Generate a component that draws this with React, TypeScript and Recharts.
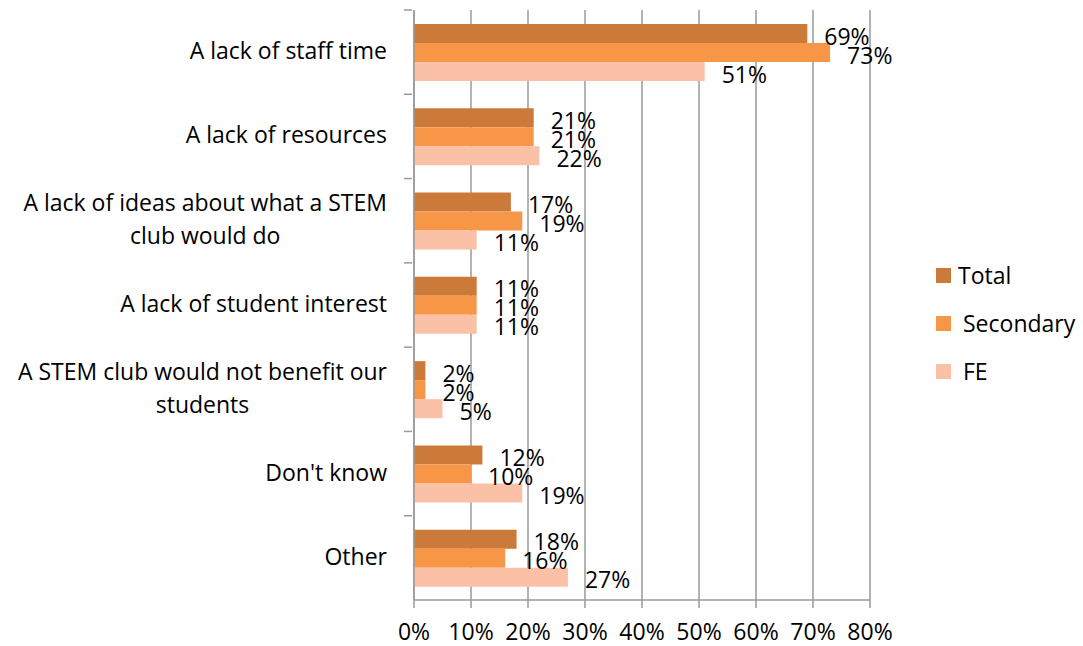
import { BarChart, Bar, XAxis, YAxis, CartesianGrid, LabelList } from "recharts";

const categories = [
  "A lack of staff time",
  "A lack of resources",
  "A lack of ideas about what a STEM club would do",
  "A lack of student interest",
  "A STEM club would not benefit our students",
  "Don't know",
  "Other",
];
const total = [69, 21, 17, 11, 2, 12, 18];
const secondary = [73, 21, 19, 11, 2, 10, 16];
const fe = [51, 22, 11, 11, 5, 19, 27];
const xTicks = [0, 10, 20, 30, 40, 50, 60, 70, 80];

const series = [
  { key: "total", name: "Total", color: "#CC7A3A" },
  { key: "secondary", name: "Secondary", color: "#F79646" },
  { key: "fe", name: "FE", color: "#FAC1A6" },
];

const data = categories.map((name, i) => ({ name, total: total[i], secondary: secondary[i], fe: fe[i] }));

const FONT = "'Open Sans', sans-serif";
const FS = 23;
const GRID = "#9a9a9a";

let ctx: CanvasRenderingContext2D | null = null;
function measure(t: string) {
  if (!ctx) ctx = document.createElement("canvas").getContext("2d");
  if (!ctx) return t.length * FS * 0.5;
  ctx.font = `${FS}px 'Open Sans'`;
  return ctx.measureText(t).width;
}

function wrap(text: string, max: number) {
  const words = text.split(" ");
  const lines: string[] = [];
  let cur = "";
  for (const w of words) {
    const next = cur ? cur + " " + w : w;
    if (cur && measure(next) > max) {
      lines.push(cur);
      cur = w;
    } else cur = next;
  }
  if (cur) lines.push(cur);
  return lines;
}

const CatTick = (props: any) => {
  const { x, y, payload } = props;
  const band = 590 / categories.length;
  const lines = wrap(payload.value, 385);
  const widest = Math.max(...lines.map(measure));
  const right = x - 17;
  const cx = right - widest / 2;
  const lh = 33;
  const y0 = y - 2 - ((lines.length - 1) * lh) / 2;
  return (
    <g>
      <line x1={x} x2={x + 8} y1={y - band / 2} y2={y - band / 2} stroke={GRID} strokeWidth={1.5} />
      {lines.map((l, i) => (
        <text key={i} x={cx} y={y0 + i * lh} textAnchor="middle" dominantBaseline="central" fontFamily={FONT} fontSize={FS} fill="#000">
          {l}
        </text>
      ))}
    </g>
  );
};

const ValueLabel = (props: any) => {
  const { x, y, width, height, value } = props;
  return (
    <text x={x + width + 17} y={y + height / 2 + 2} dominantBaseline="central" fontFamily={FONT} fontSize={FS} fill="#000">
      {value}%
    </text>
  );
};

export default function App() {
  return (
    <div style={{ position: "absolute", left: 0, top: 0, width: 1083, height: 646, background: "#fff" }}>
      <BarChart
        width={1083}
        height={646}
        data={data}
        layout="vertical"
        margin={{ top: 10, right: 213, bottom: 0, left: 0 }}
        barCategoryGap={14}
        barGap={0}
      >
        <CartesianGrid horizontal={false} stroke={GRID} strokeWidth={1.5} />
        <XAxis
          type="number"
          domain={[0, 80]}
          ticks={xTicks}
          interval={0}
          tickFormatter={(v) => `${v}%`}
          height={46}
          axisLine={{ stroke: GRID, strokeWidth: 1.5 }}
          tickLine={{ stroke: GRID, strokeWidth: 1.5 }}
          tickSize={8}
          tick={{ fontFamily: FONT, fontSize: FS, fill: "#000", dy: 14 }}
        />
        <YAxis
          type="category"
          dataKey="name"
          width={414}
          axisLine={{ stroke: GRID, strokeWidth: 1.5 }}
          tickLine={false}
          tickSize={8}
          tick={<CatTick />}
          interval={0}
        />
        {series.map((s) => (
          <Bar key={s.key} dataKey={s.key} name={s.name} fill={s.color} isAnimationActive={false}>
            <LabelList dataKey={s.key} content={<ValueLabel />} />
          </Bar>
        ))}
      </BarChart>
      <div style={{ position: "absolute", left: 936, top: 251, fontFamily: FONT, fontSize: FS, color: "#000" }}>
        {series.map((s, i) => (
          <div key={s.key} style={{ display: "flex", alignItems: "center", height: 48 }}>
            <span style={{ display: "inline-block", width: 15, height: 15, background: s.color, marginRight: i === 0 ? 7 : 12 }} />
            <span>{s.name}</span>
          </div>
        ))}
      </div>
    </div>
  );
}
